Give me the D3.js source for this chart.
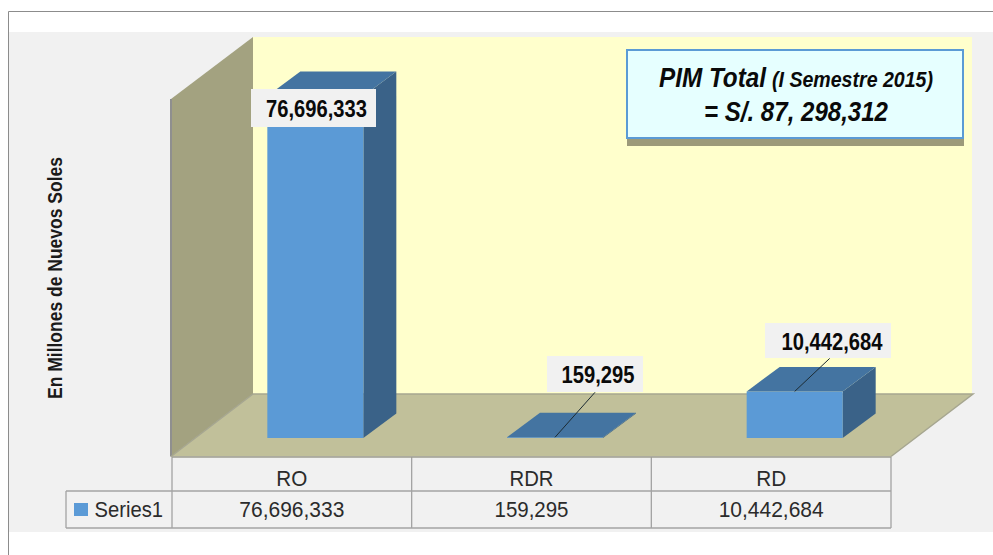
<!DOCTYPE html>
<html><head><meta charset="utf-8">
<script src="https://cdnjs.cloudflare.com/ajax/libs/d3/7.8.5/d3.min.js"></script>
<style>html,body{margin:0;padding:0;background:#fff}svg{display:block}text{font-family:"Liberation Sans",Arial,sans-serif}</style>
</head><body><div id="c"></div>
<script>
const categories = ["RO","RDR","RD"];
const values = [76696333,159295,10442684];
const seriesName = "Series1";
const yTitle = "En Millones de Nuevos Soles";
const boxLine1 = ["PIM Total","(I Semestre 2015)"];
const boxLine2 = "= S/. 87, 298,312";

const W=993,H=555;
const svg=d3.select("#c").append("svg").attr("width",W).attr("height",H);
const fmt=d3.format(",");
const poly=(pts,fill,stroke)=>svg.append("polygon").attr("points",pts.map(p=>p.join(",")).join(" ")).attr("fill",fill).attr("stroke",stroke||"none");
const squeezed=(x0,y0,size,width,str,anchor,weight,style,col)=>svg.append("text").attr("x",x0).attr("y",y0).attr("text-anchor",anchor||"start").attr("font-size",size).attr("font-weight",weight||"normal").attr("font-style",style||"normal").attr("fill",col||"#2b2b2b").attr("textLength",width).attr("lengthAdjust","spacingAndGlyphs").text(str);

// frame
svg.append("rect").attr("x",9).attr("y",32).attr("width",W-9).attr("height",500).attr("fill","#f1f1f1");
svg.append("path").attr("d",`M${W},11.5H8.5V${H}`).attr("fill","none").attr("stroke","#8c8c8c").attr("stroke-width",1);

// scales
const x=d3.scaleBand().domain(categories).range([172,891]);
const y=d3.scaleLinear().domain([0,values[0]]).range([438,96]);
const depthX=33, depthY=24.5, barW=96, barShift=23.5;
const wallDX=82, wallDY=62.5, floorY=456.5;

// walls
poly([[253,37],[972,37],[972,394],[253,394]],"#ffffcc");
poly([[171,99],[253,37],[253,394],[171,floorY]],"#a3a280");
svg.append("line").attr("x1",171).attr("x2",171).attr("y1",99).attr("y2",floorY).attr("stroke","#8f8f8f").attr("stroke-width",2);
poly([[171,floorY],[171+wallDX,floorY-wallDY],[891+wallDX,floorY-wallDY],[891,floorY]],"#c1c09a");
svg.append("path").attr("d",`M171,${floorY}L${171+wallDX},${floorY-wallDY}M253,${floorY-wallDY}H973L891,${floorY}`).attr("fill","none").attr("stroke","#a6a690").attr("stroke-width",1.5);

// bars
categories.forEach((c,i)=>{
  const x0=x(c)+x.bandwidth()/2+barShift-barW/2, x1=x0+barW;
  const yb=y(0), yt=y(values[i]);
  poly([[x1,yb],[x1+depthX,yb-depthY],[x1+depthX,yt-depthY],[x1,yt]],"#3a6288");
  poly([[x0,yb],[x1,yb],[x1,yt],[x0,yt]],"#5b9ad6");
  poly([[x0,yt],[x1,yt],[x1+depthX,yt-depthY],[x0+depthX,yt-depthY]],"#4474a1");
});

// table
const tableLines=[[66,491,891,491],[66,528,891,528],[66,491,66,528],[172,457,172,528]];
categories.forEach(c=>tableLines.push([x(c)+x.bandwidth(),457,x(c)+x.bandwidth(),528]));
tableLines.forEach(d=>{
  svg.append("line").attr("x1",d[0]).attr("y1",d[1]).attr("x2",d[2]).attr("y2",d[3]).attr("stroke","#a3a3a3").attr("stroke-width",1.3);
});
svg.append("line").attr("x1",172).attr("x2",891).attr("y1",457).attr("y2",457).attr("stroke","#9d9d90").attr("stroke-width",1.5);
const catWidths=[31,44,30], valWidths=[105,74,105];
categories.forEach((c,i)=>{
  const cx=x(c)+x.bandwidth()/2;
  squeezed(cx,486,22,catWidths[i],c,"middle");
  squeezed(cx,517,22.5,valWidths[i],fmt(values[i]),"middle");
});
svg.append("rect").attr("x",74).attr("y",503).attr("width",14).attr("height",13).attr("fill","#5b9ad6");
squeezed(94.5,517,22.5,68.5,seriesName);

// y title
svg.append("text").attr("transform","translate(62,278) rotate(-90)").attr("text-anchor","middle").attr("font-size",19.5).attr("font-weight","bold").attr("fill","#1a1a1a").attr("textLength",242).attr("lengthAdjust","spacingAndGlyphs").text(yTitle);

// leader lines (offsets from each bar's anchor)
const leaders=[null,[[40,-45]],[[35,-33]]];
categories.forEach((c,i)=>{
  if(!leaders[i]) return;
  const x0=x(c)+x.bandwidth()/2+barShift; const yt=y(values[i]);
  svg.append("line").attr("x1",x0).attr("y1",yt).attr("x2",x0+leaders[i][0][0]).attr("y2",yt+leaders[i][0][1]).attr("stroke","#1c2b33").attr("stroke-width",1);
});

// data labels
const lab=[{bx:251,by:89,bw:125,bh:38,cx:316.5,base:116.5,tw:101},
           {bx:547,by:356,bw:96,bh:36,cx:598,base:383,tw:73},
           {bx:765,by:323,bw:126,bh:35,cx:832,base:349.5,tw:101}];
lab.forEach((l,i)=>{
  svg.append("rect").attr("x",l.bx).attr("y",l.by).attr("width",l.bw).attr("height",l.bh).attr("fill","#f1f1f1");
  squeezed(l.cx,l.base,24.5,l.tw,fmt(values[i]),"middle","bold","normal","#0a0a0a");
});

// info box
svg.append("rect").attr("x",627).attr("y",56).attr("width",337).attr("height",90).attr("fill","#9c9a7a");
svg.append("rect").attr("x",627).attr("y",50).attr("width",336).attr("height",88).attr("fill","#e6ffff").attr("stroke","#5b9bd5").attr("stroke-width",2);
squeezed(659,87,28,107,boxLine1[0],"start","bold","italic","#0a0a0a");
squeezed(772,87,22,161,boxLine1[1],"start","bold","italic","#0a0a0a");
squeezed(704,120.5,28,184,boxLine2,"start","bold","italic","#0a0a0a");
</script></body></html>
